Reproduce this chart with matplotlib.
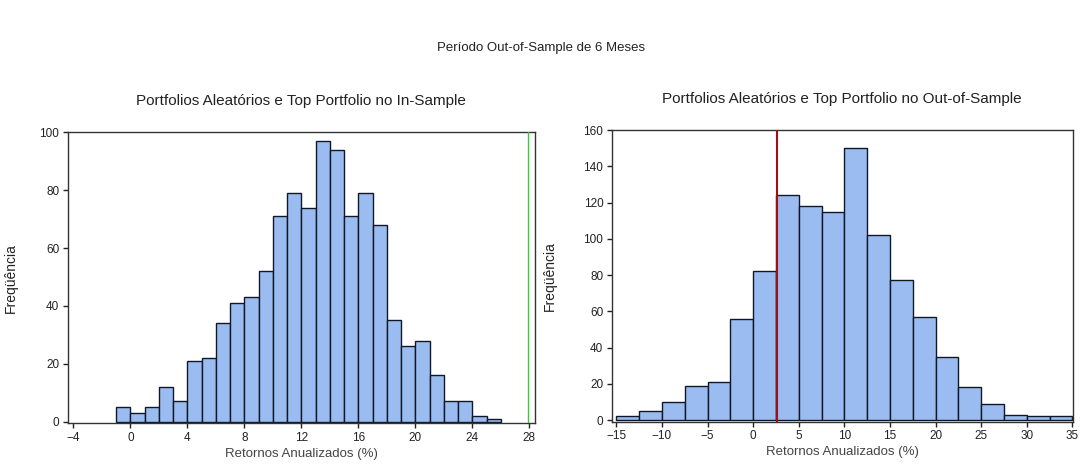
import numpy as np
import matplotlib
matplotlib.use("Agg")
import matplotlib.pyplot as plt

plt.rcParams['font.family'] = ['Liberation Sans', 'DejaVu Sans']

# In-sample histogram (bin width 1, starting at -1)
in_start = -1.0
in_width = 1.0
in_counts = [5, 3, 5, 12, 7, 21, 22, 34, 41, 43, 52, 71, 79, 74, 97, 94, 71, 79, 68,
             35, 26, 28, 16, 7, 7, 2, 1]
in_top = 27.9

# Out-of-sample histogram (bin width 2.5, starting at -15)
out_start = -15.0
out_width = 2.5
out_counts = [2, 5, 10, 19, 21, 56, 82, 124, 118, 115, 150, 102, 77, 57, 35, 18, 9, 3, 2, 2]
out_top = 2.6

in_xticks = [-4, 0, 4, 8, 12, 16, 20, 24, 28]
in_yticks = [0, 20, 40, 60, 80, 100]
out_xticks = [-15, -10, -5, 0, 5, 10, 15, 20, 25, 30, 35]
out_yticks = [0, 20, 40, 60, 80, 100, 120, 140, 160]

suptitle = "Período Out-of-Sample de 6 Meses"
title_in = "Portfolios Aleatórios e Top Portfolio no In-Sample"
title_out = "Portfolios Aleatórios e Top Portfolio no Out-of-Sample"
xlabel = "Retornos Anualizados (%)"
ylabel = "Freqüência"

bar_color = "#9bbcf0"
edge_color = "#101828"

W, H = 1081, 468
fig = plt.figure(figsize=(W / 100, H / 100), dpi=100)
ax1 = fig.add_axes([0.0626, 0.0955, 0.4323, 0.6218])
ax2 = fig.add_axes([0.5659, 0.0989, 0.4270, 0.6233])

def draw(ax, start, width, counts, xticks, yticks, xlim, ylim, vline, vcolor, vlw, ylab_x):
    lefts = start + width * np.arange(len(counts))
    ax.bar(lefts, counts, width=width, align='edge', color=bar_color,
           edgecolor=edge_color, linewidth=1.0, zorder=2)
    ax.axvline(vline, color=vcolor, linewidth=vlw, zorder=3)
    ax.set_xlim(*xlim)
    ax.set_ylim(*ylim)
    ax.set_xticks(xticks)
    ax.set_yticks(yticks)
    ax.tick_params(axis='both', direction='out', length=3.5, width=1, labelsize=8.5,
                   colors='#222222', pad=2.5)
    for s in ax.spines.values():
        s.set_linewidth(1.0)
        s.set_color('#333333')
    ax.set_xlabel(xlabel, fontsize=9.5, color='#444444', labelpad=3)
    ax.set_ylabel(ylabel, fontsize=10, color='#222222')
    ax.yaxis.set_label_coords(ylab_x, 0.5)

draw(ax1, in_start, in_width, in_counts, in_xticks, in_yticks, (-4.4, 28.4), (-0.6, 100),
     in_top, '#33cc33', 1.0, -0.106)
draw(ax2, out_start, out_width, out_counts, out_xticks, out_yticks, (-15.5, 35.1), (-0.9, 160),
     out_top, '#a01010', 1.5, -0.118)

fig.text(301 / W, 1 - 101 / H, title_in, fontsize=11, color='#222222',
         ha='center', va='center')
fig.text(842 / W, 1 - 99 / H, title_out, fontsize=11, color='#222222',
         ha='center', va='center')
fig.text(541 / W, 1 - 48 / H, suptitle, fontsize=9.5, color='#222222',
         ha='center', va='center')

fig.savefig("out.png", dpi=100)
